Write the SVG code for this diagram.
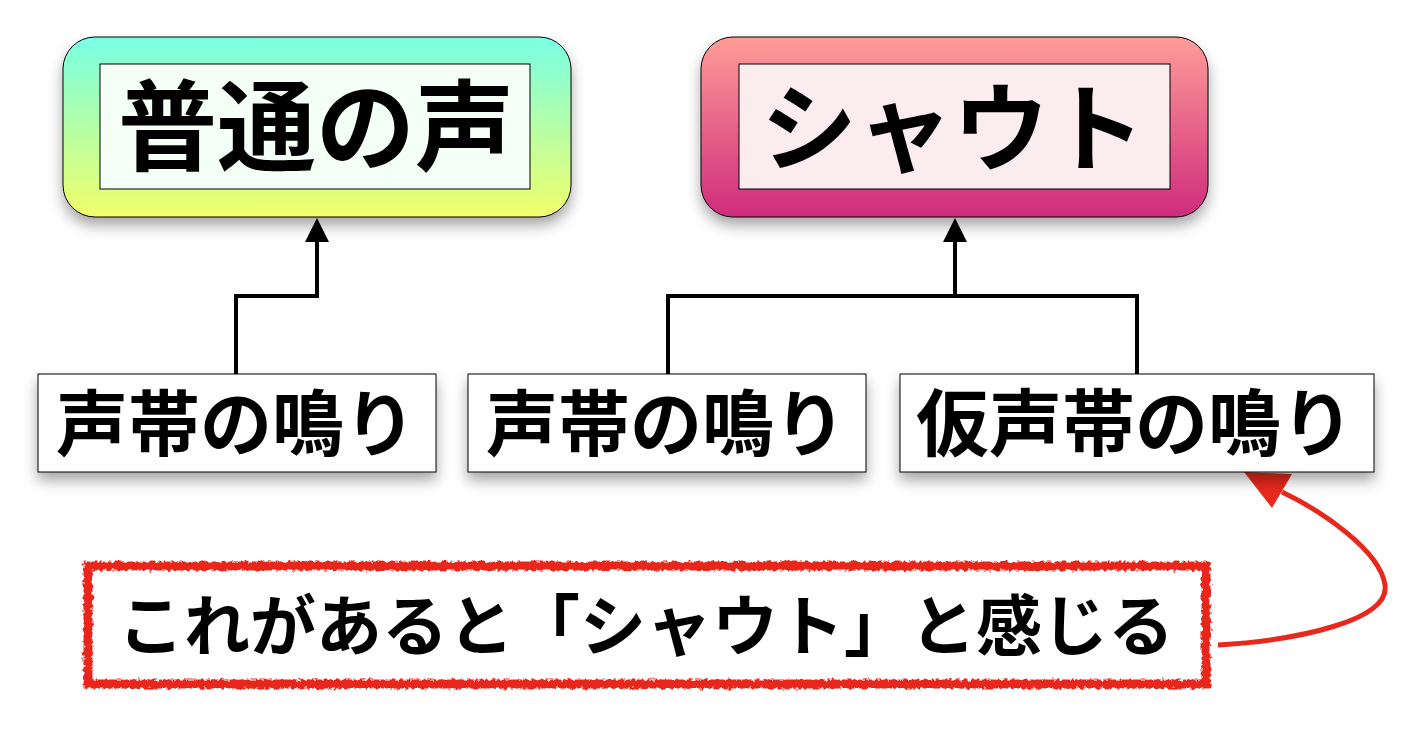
<svg xmlns="http://www.w3.org/2000/svg" width="1406" height="742" viewBox="0 0 1406 742">
<style>
text{font-family:"Noto Sans CJK JP","Noto Sans CJK SC",sans-serif;font-weight:bold;fill:#000}
.box{fill:#fff;stroke:#000;stroke-width:1}
.con{fill:none;stroke:#000;stroke-width:4}
</style>
<defs>
<linearGradient id="g1" x1="0" y1="0" x2="0" y2="1"><stop offset="0" stop-color="#78ffe4"/><stop offset="1" stop-color="#f2ff6a"/></linearGradient>
<linearGradient id="g2" x1="0" y1="0" x2="0" y2="1"><stop offset="0" stop-color="#ff9c98"/><stop offset="1" stop-color="#cf2c7c"/></linearGradient>
<filter id="sh" x="-10%" y="-10%" width="120%" height="140%"><feDropShadow dx="0" dy="8" stdDeviation="7" flood-opacity="0.35"/></filter>
<filter id="rough"><feTurbulence type="fractalNoise" baseFrequency="0.25" numOctaves="2" seed="3"/><feDisplacementMap in="SourceGraphic" scale="6"/></filter>
<marker id="ah" markerWidth="6" markerHeight="6" refX="5" refY="3" orient="auto" markerUnits="strokeWidth"><path d="M0,0L6,3L0,6z" fill="#000"/></marker>
</defs>
<g id="connectors">
<path class="con" d="M236,374V296H317V222" marker-end="url(#ah)"/>
<path class="con" d="M668,374V296H1137V374M955,296V222" marker-end="url(#ah)"/>
<path d="M1218,645C1300,640 1390,620 1385,585C1380,550 1320,510 1282,492" fill="none" stroke="#e8281c" stroke-width="5"/>
<path d="M1244,472L1292,474L1272,508z" fill="#e8281c"/>
</g>
<g id="n1" filter="url(#sh)"><rect x="63" y="37" width="508" height="180" rx="32" fill="url(#g1)" stroke="#000"/>
<rect x="100" y="64" width="430" height="125" fill="#f4fff6" stroke="#000"/>
<text x="316" y="163" font-size="99" text-anchor="middle">普通の声</text></g>
<g id="n2" filter="url(#sh)"><rect x="701" y="37" width="507" height="180" rx="32" fill="url(#g2)" stroke="#000"/>
<rect x="739" y="64" width="431" height="125" fill="#fbecf0" stroke="#000"/>
<text x="953" y="163" font-size="96" text-anchor="middle">シャウト</text></g>
<g id="n3" filter="url(#sh)"><rect class="box" x="38" y="374" width="398" height="98"/><text x="236" y="450" font-size="72" text-anchor="middle">声帯の鳴り</text></g>
<g id="n4" filter="url(#sh)"><rect class="box" x="468" y="374" width="398" height="98"/><text x="666" y="450" font-size="72" text-anchor="middle">声帯の鳴り</text></g>
<g id="n5" filter="url(#sh)"><rect class="box" x="900" y="374" width="474" height="98"/><text x="1135" y="450" font-size="73" text-anchor="middle">仮声帯の鳴り</text></g>
<g id="n6"><rect x="88" y="566" width="1118" height="118" fill="#fff" stroke="#e8281c" stroke-width="9" filter="url(#rough)"/>
<text x="646" y="650" font-size="66" text-anchor="middle">これがあると「シャウト」と感じる</text></g>
</svg>
